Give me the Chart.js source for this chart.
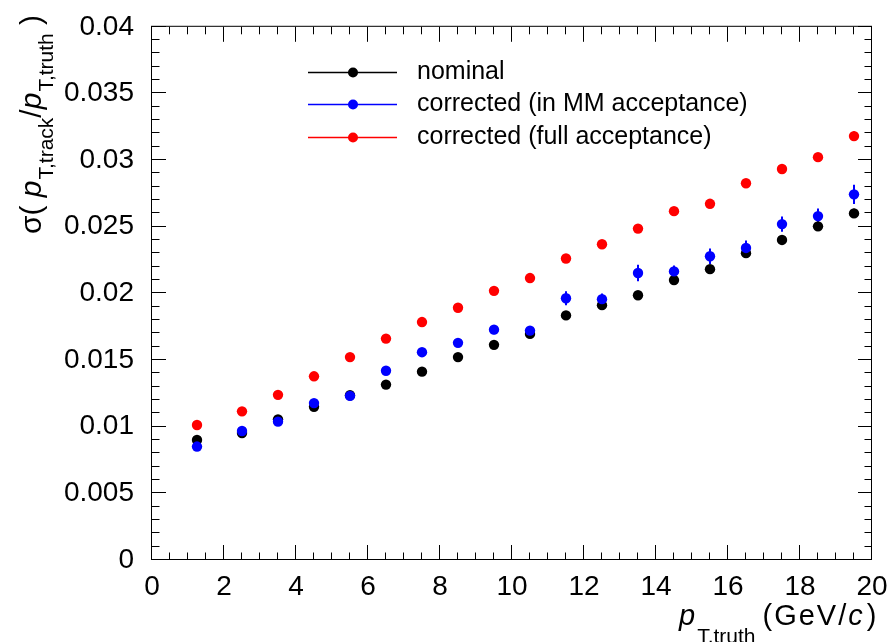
<!DOCTYPE html>
<html>
<head>
<meta charset="utf-8">
<script src="https://cdn.jsdelivr.net/npm/chart.js@4.4.1/dist/chart.umd.min.js"></script>
<style>
	html, body { margin: 0; padding: 0; background: #fff; }
</style>
</head>
<body>
<canvas id="resolution" width="893" height="642"></canvas>
<script>
// bin centres in pT,truth (GeV/c)
var ptTruth = [1.25, 2.5, 3.5, 4.5, 5.5, 6.5, 7.5, 8.5, 9.5, 10.5, 11.5, 12.5, 13.5, 14.5, 15.5, 16.5, 17.5, 18.5, 19.5];

// sigma(pT,track / pT,truth) for each sample
var sigmaNominal = [0.0090, 0.00953, 0.01055, 0.01149, 0.01236, 0.01316, 0.01413, 0.01522, 0.01614, 0.01696, 0.01835, 0.01912, 0.01986, 0.0210, 0.02182, 0.02302, 0.02401, 0.02503, 0.0260];
var sigmaCorrMM = [0.00851, 0.00968, 0.01038, 0.01177, 0.01231, 0.0142, 0.01559, 0.01629, 0.01728, 0.01721, 0.01964, 0.01957, 0.02153, 0.02165, 0.02279, 0.02341, 0.0252, 0.0258, 0.02743];
var sigmaCorrFull = [0.01013, 0.01115, 0.01239, 0.01378, 0.01522, 0.01661, 0.01785, 0.01892, 0.02019, 0.02115, 0.02262, 0.02369, 0.02486, 0.02617, 0.02672, 0.02826, 0.02933, 0.03022, 0.0318];

// statistical errors
var errNominal = [0.0001, 0.0001, 0.0001, 0.00012, 0.00012, 0.00015, 0.00015, 0.00015, 0.00018, 0.0002, 0.0002, 0.00022, 0.00022, 0.00025, 0.00025, 0.00028, 0.0003, 0.00032, 0.00035];
var errCorrMM = [0.0002, 0.0002, 0.0002, 0.00025, 0.00028, 0.0003, 0.0003, 0.00032, 0.00035, 0.00035, 0.00052, 0.00042, 0.00062, 0.00045, 0.00058, 0.00055, 0.00057, 0.00057, 0.00072];
var errCorrFull = [0.0001, 0.0001, 0.0001, 0.00012, 0.00012, 0.00015, 0.00015, 0.00015, 0.00018, 0.0002, 0.0002, 0.00022, 0.00022, 0.00025, 0.00025, 0.00028, 0.0003, 0.00032, 0.00035];

var seriesNames = ["nominal", "corrected (in MM acceptance)", "corrected (full acceptance)"];

var xMin = 0, xMax = 20, xMajor = 2, xMinor = 0.5;
var yMin = 0, yMax = 0.04, yMajor = 0.005, yMinor = 0.001;

var FONT = '"Liberation Sans", Arial, Helvetica, sans-serif';
var color = {
	black: "#000000",
	blue: "#0000ff",
	red: "#ff0000"
};
var seriesColors = [color.black, color.blue, color.red];

function points(ys, errs) {
	return ptTruth.map(function (x, i) {
		return { x: x, y: ys[i], err: errs[i] };
	});
}

// vertical error bars, drawn under the markers
var errorBars = {
	id: "errorBars",
	beforeDatasetsDraw: function (chart) {
		var ctx = chart.ctx;
		var ys = chart.scales.y;
		ctx.save();
		ctx.lineWidth = 2;
		chart.data.datasets.forEach(function (ds, di) {
			var meta = chart.getDatasetMeta(di);
			ctx.strokeStyle = seriesColors[di];
			ctx.beginPath();
			meta.data.forEach(function (pt, i) {
				var d = ds.data[i];
				ctx.moveTo(pt.x, ys.getPixelForValue(d.y - d.err));
				ctx.lineTo(pt.x, ys.getPixelForValue(d.y + d.err));
			});
			ctx.stroke();
		});
		ctx.restore();
	}
};

// frame with inward ticks on all four sides
var frame = {
	id: "frame",
	afterDraw: function (chart) {
		var ctx = chart.ctx, a = chart.chartArea;
		var xs = chart.scales.x, ys = chart.scales.y;
		var i, v, p, len;
		ctx.save();
		ctx.strokeStyle = "#000";
		ctx.lineWidth = 1;
		ctx.beginPath();
		var nx = Math.round((xMax - xMin) / xMinor);
		for (i = 0; i <= nx; i++) {
			v = xMin + i * xMinor;
			p = Math.round(xs.getPixelForValue(v)) - 0.5;
			len = (i % Math.round(xMajor / xMinor) === 0) ? 15 : 7.5;
			ctx.moveTo(p, a.bottom); ctx.lineTo(p, a.bottom - len);
			ctx.moveTo(p, a.top); ctx.lineTo(p, a.top + len);
		}
		var ny = Math.round((yMax - yMin) / yMinor);
		for (i = 0; i <= ny; i++) {
			v = yMin + i * yMinor;
			p = Math.round(ys.getPixelForValue(v)) - 0.5;
			len = (i % Math.round(yMajor / yMinor) === 0) ? 14 : 7.5;
			ctx.moveTo(a.left, p); ctx.lineTo(a.left + len, p);
			ctx.moveTo(a.right, p); ctx.lineTo(a.right - len, p);
		}
		ctx.stroke();
		ctx.strokeRect(a.left - 0.5, a.top - 0.5, a.right - a.left, a.bottom - a.top);
		ctx.restore();
	}
};

// draws pieces of text one after another along the baseline
function drawPieces(ctx, x, y, pieces) {
	pieces.forEach(function (pc) {
		ctx.font = (pc.italic ? "italic " : "") + pc.size + "px " + FONT;
		ctx.letterSpacing = (pc.spacing || 0) + "px";
		ctx.fillText(pc.text, x + (pc.dx || 0), y + (pc.dy || 0));
		x += ctx.measureText(pc.text).width + (pc.dx || 0);
	});
}

var titles = {
	id: "titles",
	afterDraw: function (chart) {
		var ctx = chart.ctx;
		ctx.save();
		ctx.fillStyle = "#000";
		ctx.textBaseline = "alphabetic";
		ctx.textAlign = "left";

		// x axis title
		drawPieces(ctx, 679, 625, [
			{ text: "p", size: 29, italic: true },
			{ text: "T,truth", size: 21, dy: 18, dx: 2 },
			{ text: "(GeV/", size: 29, dx: 7, spacing: 2 },
			{ text: "c", size: 29, italic: true, spacing: 2 },
			{ text: ")", size: 29, dx: 2 }
		]);

		// y axis title, rotated
		ctx.save();
		ctx.translate(41, 234);
		ctx.rotate(-Math.PI / 2);
		drawPieces(ctx, 0, 0, [
			{ text: "\u03c3( ", size: 30 },
			{ text: "p", size: 30, italic: true },
			{ text: "T,track", size: 21, dy: 12, dx: 1 },
			{ text: "/", size: 30 },
			{ text: "p", size: 30, italic: true },
			{ text: "T,truth", size: 21, dy: 12, dx: 1 },
			{ text: " )", size: 30 }
		]);
		ctx.restore();

		// legend
		var rows = [72, 104, 137];
		ctx.letterSpacing = "0px";
		seriesNames.forEach(function (name, i) {
			var y = rows[i] + 0.5;
			ctx.strokeStyle = seriesColors[i];
			ctx.lineWidth = 1.4;
			ctx.beginPath();
			ctx.moveTo(308, y);
			ctx.lineTo(397, y);
			ctx.stroke();
			ctx.fillStyle = seriesColors[i];
			ctx.beginPath();
			ctx.arc(353, y, 5, 0, Math.PI * 2);
			ctx.fill();
			ctx.fillStyle = "#000";
			ctx.font = "25px " + FONT;
			ctx.fillText(name, 417, rows[i] + 7);
		});
		ctx.restore();
	}
};

var ctx = document.getElementById("resolution").getContext("2d");

var resolutionChart = new Chart(ctx, {
	type: "scatter",
	data: {
		datasets: [
			{ label: seriesNames[0], data: points(sigmaNominal, errNominal), backgroundColor: color.black, order: 2 },
			{ label: seriesNames[1], data: points(sigmaCorrMM, errCorrMM), backgroundColor: color.blue, order: 1 },
			{ label: seriesNames[2], data: points(sigmaCorrFull, errCorrFull), backgroundColor: color.red, order: 0 }
		]
	},
	options: {
		responsive: false,
		animation: false,
		devicePixelRatio: 1,
		layout: { padding: { top: 23, right: 21, left: 0, bottom: 0 } },
		elements: {
			point: { radius: 5.2, hoverRadius: 5.2, borderWidth: 0 }
		},
		plugins: {
			legend: { display: false },
			tooltip: { enabled: false }
		},
		scales: {
			x: {
				type: "linear",
				min: xMin,
				max: xMax,
				grid: { display: false },
				border: { display: false },
				ticks: {
					stepSize: xMajor,
					autoSkip: false,
					maxRotation: 0,
					color: "#000",
					padding: 2,
					font: { family: FONT, size: 28 }
				},
				afterFit: function (s) { s.height = 82; }
			},
			y: {
				type: "linear",
				min: yMin,
				max: yMax,
				grid: { display: false },
				border: { display: false },
				ticks: {
					stepSize: yMajor,
					autoSkip: false,
					color: "#000",
					padding: 10,
					font: { family: FONT, size: 28 },
					callback: function (v) { return String(Number(v.toFixed(3))); }
				},
				afterFit: function (s) { s.width = 152; }
			}
		}
	},
	plugins: [errorBars, frame, titles]
});
</script>
</body>
</html>
